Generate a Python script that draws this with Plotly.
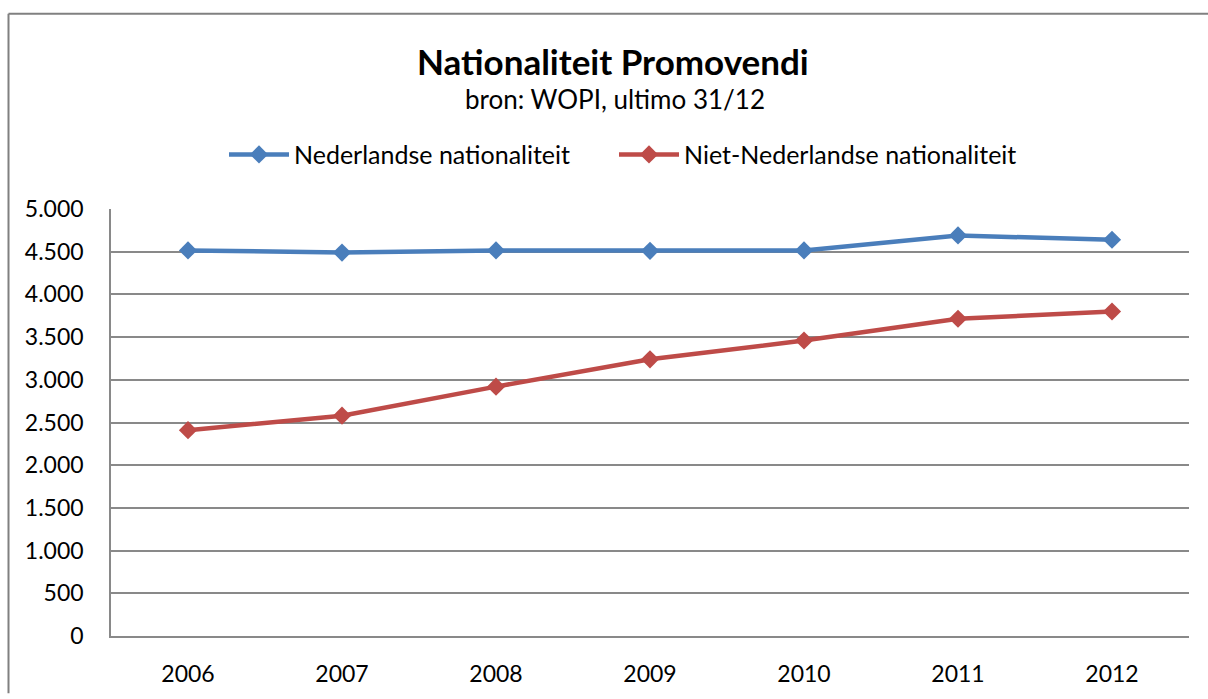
import plotly.graph_objects as go

years = ['2006', '2007', '2008', '2009', '2010', '2011', '2012']
nederlands = [4515, 4490, 4515, 4510, 4515, 4690, 4640]
niet_nederlands = [2410, 2580, 2920, 3240, 3460, 3715, 3800]

blue = '#4A7EBB'
red = '#BE4B48'
grid = '#898989'
frame = '#808080'
font = 'Lato, Calibri, sans-serif'

# plot area in pixels: x 111..1189, y 209..641
def px(x):
    return (x - 111) / 1078

def py(y):
    return (641 - y) / 432

fig = go.Figure()
fig.add_trace(go.Scatter(
    x=years, y=nederlands, name='Nederlandse nationaliteit',
    mode='lines+markers',
    line=dict(color=blue, width=4.5),
    marker=dict(symbol='diamond', size=14, color=blue),
    legend='legend'
))
fig.add_trace(go.Scatter(
    x=years, y=niet_nederlands, name='Niet-Nederlandse nationaliteit',
    mode='lines+markers',
    line=dict(color=red, width=4.5),
    marker=dict(symbol='diamond', size=14, color=red),
    legend='legend2'
))

legend_style = dict(orientation='h', xanchor='left', yanchor='middle', y=py(154),
                    font=dict(size=25), itemwidth=60, bgcolor='rgba(0,0,0,0)')

fig.update_layout(
    width=1208, height=699,
    margin=dict(l=111, r=19, t=209, b=58),
    paper_bgcolor='white', plot_bgcolor='white',
    separators=',.',
    font=dict(family=font, size=23, color='black'),
    showlegend=True,
    legend=dict(x=px(224), **legend_style),
    legend2=dict(x=px(614), **legend_style),
    xaxis=dict(type='category', range=[-0.5, 6.5], showgrid=False,
               showline=True, linecolor=grid, linewidth=1.5, ticks='',
               ticklabelstandoff=17, tickfont=dict(size=23)),
    yaxis=dict(range=[0, 5000], dtick=500, tickformat=',d', showgrid=True,
               gridcolor=grid, gridwidth=1.5, showline=True, linecolor=grid, linewidth=1.5,
               zeroline=False, ticks='', ticklabelstandoff=21, tickfont=dict(size=23)),
    # outer chart frame: only the left and top edges fall inside the picture
    shapes=[
        dict(type='line', xref='paper', yref='paper',
             x0=px(8.5), x1=px(8.5), y0=py(699), y1=py(11.5),
             line=dict(color=frame, width=2), layer='below'),
        dict(type='line', xref='paper', yref='paper',
             x0=px(8.5), x1=px(1208), y0=py(11.5), y1=py(11.5),
             line=dict(color=frame, width=2), layer='below'),
    ],
    annotations=[
        dict(text='<b>Nationaliteit Promovendi</b>', xref='paper', yref='paper',
             x=px(613), y=py(59), xanchor='center', yanchor='middle',
             showarrow=False, font=dict(size=35)),
        dict(text='bron: WOPI, ultimo 31/12', xref='paper', yref='paper',
             x=px(615), y=py(98), xanchor='center', yanchor='middle',
             showarrow=False, font=dict(size=26)),
    ]
)

# drop the default 8px page margin so the figure fills the window exactly
fig.write_html('out.html', config={'displayModeBar': False},
               post_script="document.body.style.margin='0'; document.body.style.overflow='hidden';")
